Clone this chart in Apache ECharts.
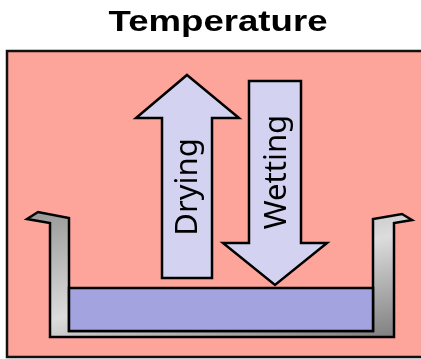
<!DOCTYPE html>
<html>
<head>
<meta charset="utf-8">
<script src="https://cdn.jsdelivr.net/npm/echarts@6/dist/echarts.min.js"></script>
<style>
  html, body { margin: 0; padding: 0; background: #ffffff; }
  #chart { width: 421px; height: 359px; }
</style>
</head>
<body>
<div id="chart"></div>
<script>
// Diagram content (diagram units on hidden axes: x 0..421, y 0..359 downward)
const titleText = 'Temperature';
const arrowLabels = ['Drying', 'Wetting'];
const boxOutline = [[7, 51], [440, 51], [440, 357], [7, 357]];
const dryingArrow = [[187, 75], [239, 118], [212, 118], [212, 278], [162, 278], [162, 118], [136, 118]];
const wettingArrow = [[249, 81], [301, 81], [301, 243], [327, 243], [275, 285], [223, 243], [249, 243]];
const panOutline = [[27, 219], [38, 212], [69, 218], [69, 331], [373, 331], [373, 219], [402, 214], [412, 220], [394, 223], [394, 337], [50, 337], [50, 223]];
const panShadeAxis = [[40, 212], [92, 421]];
const waterOutline = [[69, 288], [373, 288], [373, 331], [69, 331]];
const labelAnchors = [[188, 187], [277, 172]];
const titleAnchor = [218, 22.5];

const chart = echarts.init(document.getElementById('chart'), null, { renderer: 'canvas' });

function polySeries(name, pts, styleFn, z) {
  return {
    type: 'custom', name: name, z: z, silent: true,
    coordinateSystem: 'cartesian2d',
    data: [[0, 0]],
    renderItem: function (params, api) {
      return {
        type: 'polygon',
        shape: { points: pts.map(p => api.coord(p)) },
        style: styleFn(api)
      };
    }
  };
}

function textSeries(name, texts, anchors, styleFn, z) {
  return {
    type: 'custom', name: name, z: z, silent: true,
    coordinateSystem: 'cartesian2d',
    data: texts.map((t, i) => [anchors[i][0], anchors[i][1], i]),
    renderItem: function (params, api) {
      const i = params.dataIndex;
      const c = api.coord([api.value(0), api.value(1)]);
      return styleFn(texts[i], c, i);
    }
  };
}

const option = {
  animation: false,
  backgroundColor: '#ffffff',
  grid: { left: 0, right: 0, top: 0, bottom: 0 },
  xAxis: { type: 'value', min: 0, max: 421, show: false },
  yAxis: { type: 'value', min: 0, max: 359, inverse: true, show: false },
  series: [
    polySeries('box', boxOutline, () => ({ fill: '#FDA59B', stroke: '#111', lineWidth: 2.5 }), 1),
    polySeries('pan', panOutline, function (api) {
      const a = api.coord(panShadeAxis[0]);
      const b = api.coord(panShadeAxis[1]);
      return {
        fill: new echarts.graphic.LinearGradient(a[0], a[1], b[0], b[1], [
          { offset: 0, color: '#999999' },
          { offset: 0.5, color: '#dcdcdc' },
          { offset: 1, color: '#777777' }
        ], true),
        stroke: '#000', lineWidth: 2.5, lineJoin: 'miter'
      };
    }, 2),
    polySeries('water', waterOutline, () => ({ fill: '#A3A3DF', stroke: '#000', lineWidth: 2.5 }), 3),
    polySeries('drying', dryingArrow, () => ({ fill: '#D3D3F1', stroke: '#000', lineWidth: 2.5, lineJoin: 'miter' }), 4),
    polySeries('wetting', wettingArrow, () => ({ fill: '#D3D3F1', stroke: '#000', lineWidth: 2.5, lineJoin: 'miter' }), 4),
    textSeries('labels', arrowLabels, labelAnchors, function (t, c) {
      return {
        type: 'text', x: c[0], y: c[1], rotation: Math.PI / 2,
        style: {
          text: t, fill: '#000',
          fontSize: 31, fontFamily: 'Noto Sans',
          align: 'center', verticalAlign: 'middle'
        }
      };
    }, 5),
    textSeries('title', [titleText], [titleAnchor], function (t, c) {
      return {
        type: 'text', x: c[0], y: c[1], scaleX: 1.22, scaleY: 1,
        style: {
          text: t, fill: '#000',
          fontSize: 30, fontWeight: 'bold', fontFamily: 'Liberation Sans',
          align: 'center', verticalAlign: 'middle'
        }
      };
    }, 5)
  ]
};
chart.setOption(option);
</script>
</body>
</html>
